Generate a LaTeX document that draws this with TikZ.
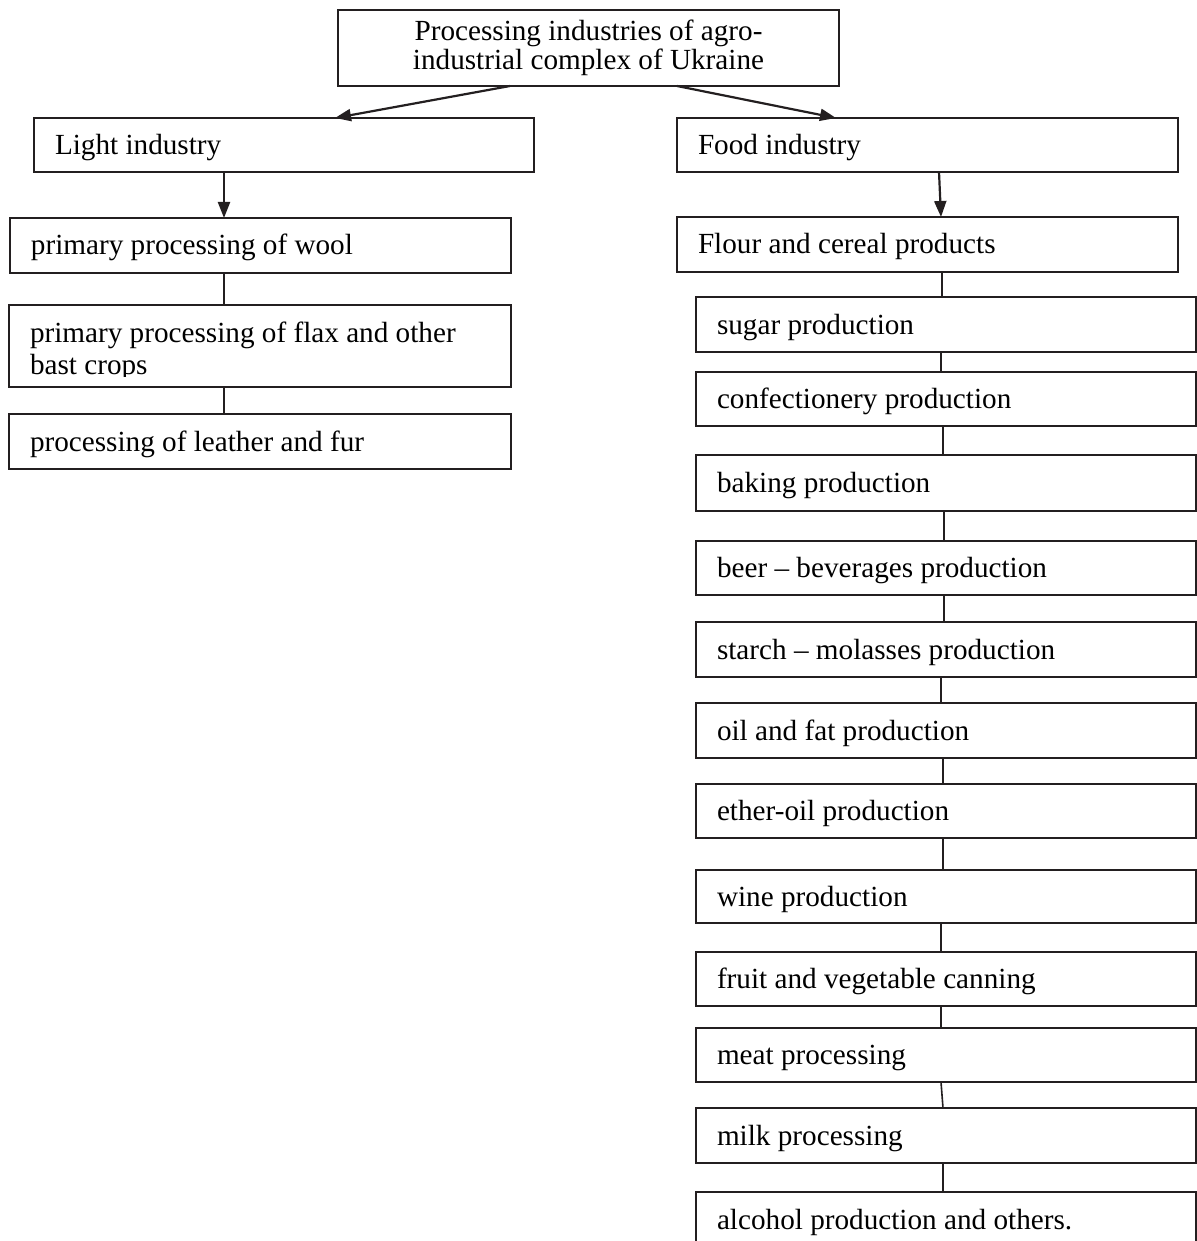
\documentclass[tikz,border=0pt]{standalone}
\usepackage{fontspec}
\setmainfont{Liberation Serif}
\usetikzlibrary{arrows.meta}
\definecolor{ink}{RGB}{35,31,32}
\begin{document}
\begin{tikzpicture}[x=0.5pt,y=-0.5pt,
  every node/.style={outer sep=0pt},
  box/.style={draw=ink, line width=1.1pt, rectangle, anchor=north west,
    inner xsep=10.5pt, inner ysep=0pt, align=justify,
    text height=12pt, text depth=2.5pt,
    font=\fontsize{14.6pt}{14.5pt}\selectfont},
  lbox/.style={box, minimum width=250.5pt, text width=229.5pt, minimum height=27.5pt},
  sbox/.style={box, minimum width=250.25pt, text width=229.25pt, minimum height=27.5pt},
  conn/.style={draw=ink, line width=0.8pt},
  arr/.style={draw=ink, line width=1.1pt, -{Triangle[length=8pt,width=6pt]}},
]
\useasboundingbox (0,0) rectangle (1196,1241);

% top
\node[draw=ink, line width=1.1pt, anchor=north west, minimum width=250.5pt,
  minimum height=38pt, inner sep=0pt, align=center,
  font=\fontsize{14.6pt}{14.5pt}\selectfont] (top) at (338,10)
  {Processing industries of agro-\\industrial complex of Ukraine};

% left column
\node[lbox, minimum width=250pt, text width=229pt, minimum height=27pt] (light) at (34,118) {Light industry};
\node[lbox] (wool) at (10,218) {primary processing of wool};
\node[draw=ink, line width=1.1pt, anchor=north west, minimum width=251pt, minimum height=41pt, inner sep=0pt] (flax) at (9,305) {};
\node[anchor=north west, inner sep=0pt, align=left,
  font=\fontsize{14.6pt}{16pt}\selectfont] (flaxtext) at (30,322)
  {primary processing of flax and other\\bast crops};
\fill[white] (12,376.5) rectangle (508,385.5);
\node[lbox, minimum width=251pt, text width=230pt] (leather) at (9,414) {processing of leather and fur};

% right column
\node[lbox, minimum height=27pt] (food) at (677,118) {Food industry};
\node[lbox] (flour) at (677,217) {Flour and cereal products};
\node[sbox] (sugar) at (696,297) {sugar production};
\node[sbox, minimum height=27pt] (conf) at (696,372) {confectionery production};
\node[sbox, minimum height=28pt] (baking) at (696,455) {baking production};
\node[sbox, minimum height=27pt] (beer) at (696,541) {beer – beverages production};
\node[sbox] (starch) at (696,622) {starch – molasses production};
\node[sbox] (oil) at (696,703) {oil and fat production};
\node[sbox, minimum height=27pt] (ether) at (696,784) {ether-oil production};
\node[sbox, minimum height=26.5pt] (wine) at (696,870) {wine production};
\node[sbox, minimum height=27pt] (fruit) at (696,952) {fruit and vegetable canning};
\node[sbox, minimum height=27pt] (meat) at (696,1028) {meat processing};
\node[sbox] (milk) at (696,1108) {milk processing};
\node[sbox] (alcohol) at (696,1192) {alcohol production and others.};

% arrows
\coordinate (xa) at (510,0);
\coordinate (xb) at (335,0);
\coordinate (xc) at (677,0);
\coordinate (xd) at (836,0);
\coordinate (xl) at (224,0);
\coordinate (xf1) at (939,0);
\coordinate (xf2) at (941,0);
\draw[arr] (top.south -| xa) -- (light.north -| xb);
\draw[arr] (top.south -| xc) -- (food.north -| xd);
\draw[arr] (light.south -| xl) -- (wool.north -| xl);
\draw[arr] (food.south -| xf1) -- (flour.north -| xf2);

% plain connectors
\draw[conn] (wool.south -| xl) -- (flax.north -| xl);
\draw[conn] (flax.south -| xl) -- (leather.north -| xl);
\foreach \a/\b/\p/\q in {flour/sugar/942/942, sugar/conf/941/941, conf/baking/943/943,
  baking/beer/944/944, beer/starch/944/944, starch/oil/941/941, oil/ether/943/943,
  ether/wine/943/943, wine/fruit/941/941, fruit/meat/941/941, meat/milk/941/943,
  milk/alcohol/943/943}{
  \coordinate (cp) at (\p,0);
  \coordinate (cq) at (\q,0);
  \draw[conn] (\a.south -| cp) -- (\b.north -| cq);
}
\end{tikzpicture}
\end{document}
